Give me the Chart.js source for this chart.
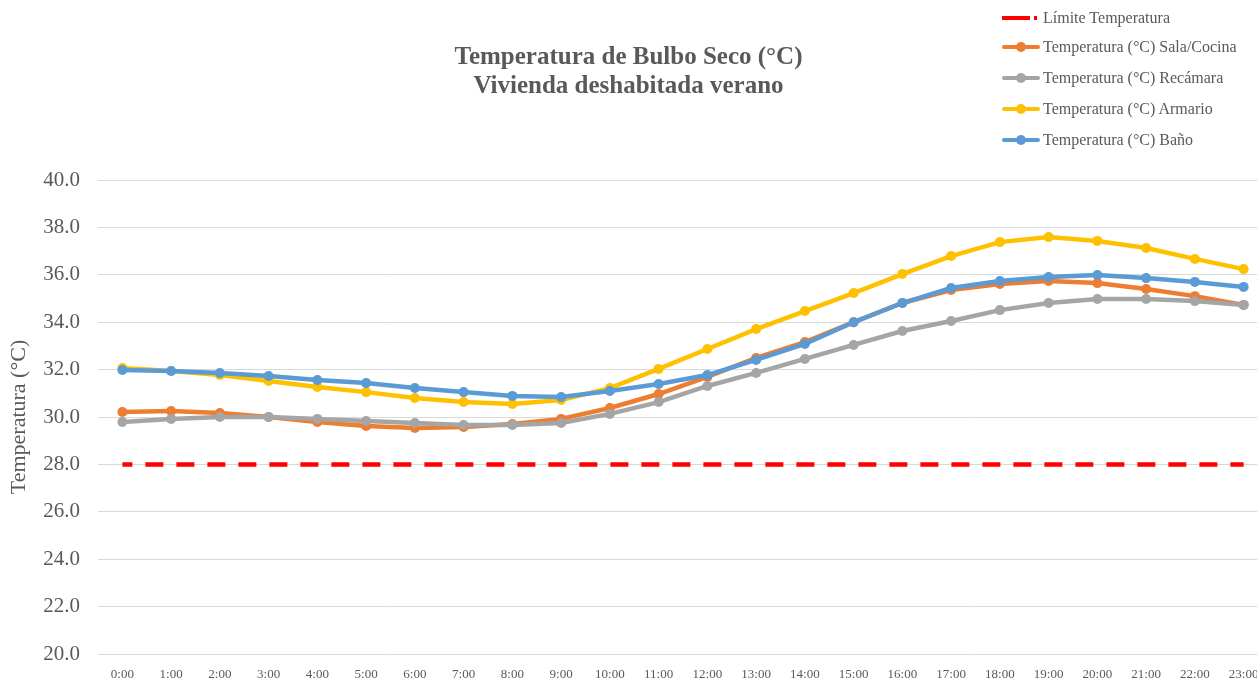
<!DOCTYPE html>
<html>
<head>
<meta charset="utf-8">
<script src="https://cdn.jsdelivr.net/npm/chart.js@4"></script>
<style>
  html, body { margin:0; padding:0; background:#fff; overflow:hidden; }
  #wrap { position:relative; width:1273px; height:683px; }
  #legend { position:absolute; left:1002px; top:5px; font-family:"Liberation Serif", serif; font-size:16px; color:#595959; }
  #legend .item { display:flex; align-items:center; height:31px; }
  #legend .item:first-child { height:26px; }
  #legend .mk { position:relative; width:38px; height:12px; margin-right:3px; flex:none; }
  #legend .mk .ln { position:absolute; left:0; right:0; top:4px; height:4px; border-radius:2px; }
  #legend .mk .dot { position:absolute; left:14px; top:1px; width:10px; height:10px; border-radius:50%; }
</style>
</head>
<body>
<div id="wrap">
  <canvas id="chart" width="1273" height="683"></canvas>
  <div id="legend"></div>
</div>
<script>
const hours = ['0:00','1:00','2:00','3:00','4:00','5:00','6:00','7:00','8:00','9:00','10:00','11:00',
  '12:00','13:00','14:00','15:00','16:00','17:00','18:00','19:00','20:00','21:00','22:00','23:00'];

const limite = [28,28,28,28,28,28,28,28,28,28,28,28,28,28,28,28,28,28,28,28,28,28,28,28];
const salaCocina = [30.21,30.25,30.17,30.0,29.79,29.62,29.54,29.58,29.7,29.92,30.38,30.97,
  31.69,32.49,33.16,34.0,34.81,35.36,35.61,35.74,35.65,35.4,35.1,34.73];
const recamara = [29.79,29.92,30.0,30.0,29.92,29.83,29.75,29.66,29.66,29.75,30.13,30.63,
  31.31,31.86,32.45,33.04,33.63,34.05,34.51,34.81,34.98,34.98,34.89,34.73];
const armario = [32.07,31.94,31.77,31.52,31.27,31.05,30.8,30.63,30.55,30.72,31.22,32.03,
  32.87,33.71,34.47,35.23,36.03,36.79,37.38,37.59,37.43,37.13,36.67,36.24];
const bano = [31.98,31.94,31.86,31.73,31.56,31.43,31.22,31.05,30.89,30.84,31.1,31.39,
  31.77,32.41,33.08,34.0,34.81,35.44,35.74,35.91,35.99,35.86,35.7,35.49];

const titleLines = ['Temperatura de Bulbo Seco (°C)', 'Vivienda deshabitada verano'];
const yTitle = 'Temperatura (°C)';

const txt = '#595959';
const serif = '"Liberation Serif", "Times New Roman", serif';

function series(label, data, color, order){
  return { label, data, borderColor: color, backgroundColor: color, borderWidth: 4.5,
    pointRadius: 5, pointHoverRadius: 5, pointBorderWidth: 0, tension: 0, order };
}

const datasets = [
  { label: 'Límite Temperatura', data: limite, borderColor: '#FF0000', backgroundColor: '#FF0000',
    borderWidth: 4.5, borderDash: [18, 13], borderDashOffset: 8, pointRadius: 0, order: 5 },
  series('Temperatura (°C) Sala/Cocina', salaCocina, '#ED7D31', 4),
  series('Temperatura (°C) Recámara', recamara, '#A5A5A5', 3),
  series('Temperatura (°C) Armario', armario, '#FFC000', 2),
  series('Temperatura (°C) Baño', bano, '#5B9BD5', 1)
];

new Chart(document.getElementById('chart').getContext('2d'), {
  type: 'line',
  data: { labels: hours, datasets },
  options: {
    responsive: false,
    animation: false,
    // shift left edge so the title centres on the visible 1257px
    layout: { padding: { left: -16, right: 0, top: 0, bottom: 0 } },
    plugins: {
      legend: { display: false },
      tooltip: { enabled: false },
      title: {
        display: true, text: titleLines, color: txt,
        font: { family: serif, size: 25, weight: 'bold', lineHeight: 1.16 },
        padding: { top: 43, bottom: 79 }
      }
    },
    scales: {
      x: {
        offset: true,
        afterFit: (s) => { s.height = 29; },
        grid: { display: false },
        border: { display: false },
        ticks: { color: txt, font: { family: serif, size: 13 }, padding: 5, maxRotation: 0, autoSkip: false }
      },
      y: {
        min: 20, max: 40,
        afterFit: (s) => { s.width = 114; s.paddingTop = 0; s.paddingBottom = 0; },
        grid: { color: '#D9D9D9', lineWidth: 1, drawTicks: false },
        border: { display: false },
        ticks: { stepSize: 2, color: txt, font: { family: serif, size: 21 }, padding: 18,
          callback: (v) => Number(v).toFixed(1) },
        title: { display: true, text: yTitle, color: txt, font: { family: serif, size: 22 }, padding: { top: 22, bottom: 0 } }
      }
    }
  }
});

// legend, in series order
const legend = document.getElementById('legend');
datasets.forEach((d) => {
  const item = document.createElement('div');
  item.className = 'item';
  const mk = document.createElement('span');
  mk.className = 'mk';
  if (d.borderDash) {
    mk.innerHTML = '<span class="ln" style="background:' + d.borderColor + ';border-radius:0;right:10px"></span>' +
      '<span class="ln" style="background:' + d.borderColor + ';border-radius:0;left:32px;right:3px"></span>';
  } else {
    mk.innerHTML = '<span class="ln" style="background:' + d.borderColor + '"></span>' +
      '<span class="dot" style="background:' + d.borderColor + '"></span>';
  }
  const label = document.createElement('span');
  label.textContent = d.label;
  item.appendChild(mk);
  item.appendChild(label);
  legend.appendChild(item);
});
</script>
</body>
</html>
